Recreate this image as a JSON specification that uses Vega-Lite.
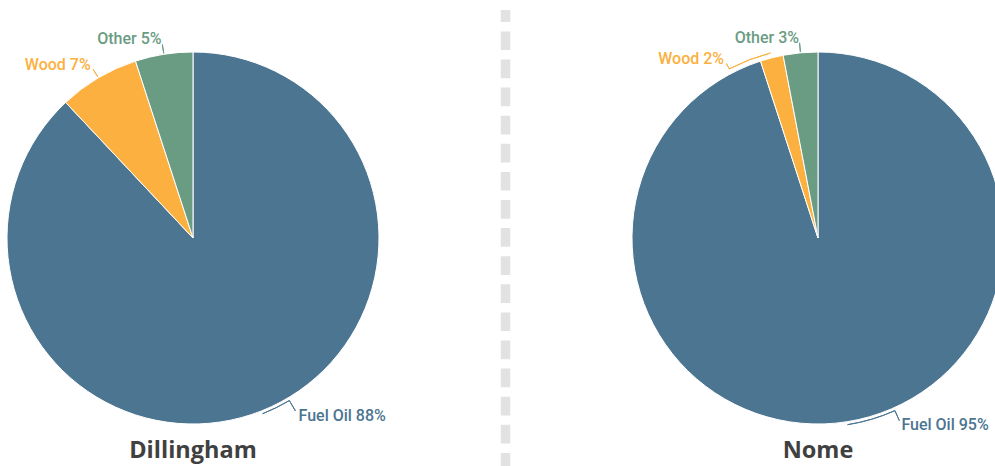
{
  "$schema": "https://vega.github.io/schema/vega-lite/v6.json",
  "width": 995,
  "height": 456,
  "autosize": {"type": "none"},
  "padding": {"top": 10, "left": 0, "right": 0, "bottom": 0},
  "background": "#ffffff",
  "config": {"view": {"stroke": null}, "font": "Roboto"},
  "data": {
    "values": [
      {"city": "Dillingham", "source": "Fuel Oil", "pct": 88},
      {"city": "Dillingham", "source": "Wood", "pct": 7},
      {"city": "Dillingham", "source": "Other", "pct": 5},
      {"city": "Nome", "source": "Fuel Oil", "pct": 95},
      {"city": "Nome", "source": "Wood", "pct": 2},
      {"city": "Nome", "source": "Other", "pct": 3}
    ]
  },
  "transform": [
    {"stack": "pct", "groupby": ["city"], "as": ["t0", "t1"]},
    {"calculate": "(datum.t0 + datum.t1) / 2", "as": "mid"},
    {"calculate": "datum.source + ' ' + datum.pct + '%'", "as": "label"}
  ],
  "encoding": {
    "x": {
      "field": "city",
      "type": "nominal",
      "scale": {"type": "point", "domain": ["Dillingham", "divider", "Nome"], "padding": 0.592, "align": 0.5216},
      "axis": null
    }
  },
  "layer": [
    {
      "data": {"values": [{"city": "divider"}]},
      "mark": {"type": "rule", "strokeWidth": 9.5, "strokeDash": [18.7, 9.4], "strokeDashOffset": 6.7},
      "encoding": {"color": {"value": "#e2e2e2"}}
    },
    {
      "mark": {"type": "arc", "radius": 186, "stroke": "#ffffff", "strokeWidth": 1},
      "encoding": {
        "theta": {"field": "t0", "type": "quantitative", "scale": {"domain": [0, 100]}},
        "theta2": {"field": "t1"},
        "color": {"field": "source", "type": "nominal", "scale": {"domain": ["Fuel Oil", "Wood", "Other"], "range": ["#4c7591", "#fbb040", "#6a9c83"]}, "legend": null}
      }
    },
    {
      "transform": [{"filter": "datum.source !== 'Fuel Oil' && !(datum.city === 'Nome' && datum.source === 'Wood')"}],
      "mark": {"type": "arc", "radius": 196, "radius2": 187, "filled": false, "strokeWidth": 1},
      "encoding": {
        "theta": {"field": "mid", "type": "quantitative"},
        "theta2": {"field": "mid"},
        "color": {"field": "source", "type": "nominal", "legend": null}
      }
    },
    {
      "transform": [{"filter": "datum.source !== 'Fuel Oil' && !(datum.city === 'Nome' && datum.source === 'Wood')"}],
      "mark": {"type": "text", "radius": 201, "align": "right", "baseline": "middle", "fontSize": 16, "fontWeight": 500},
      "encoding": {
        "theta": {"field": "mid", "type": "quantitative"},
        "text": {"field": "label"},
        "color": {"field": "source", "type": "nominal", "legend": null}
      }
    },
    {
      "transform": [{"filter": "datum.city === 'Nome' && datum.source === 'Wood'"}],
      "mark": {"type": "arc", "radius": 191, "radius2": 191, "theta2Offset": -0.232, "filled": false, "strokeWidth": 1},
      "encoding": {
        "theta": {"field": "mid", "type": "quantitative"},
        "theta2": {"field": "mid"},
        "color": {"field": "source", "type": "nominal", "legend": null}
      }
    },
    {
      "transform": [{"filter": "datum.city === 'Nome' && datum.source === 'Wood'"}],
      "mark": {"type": "arc", "radius": 197, "radius2": 191, "thetaOffset": -0.232, "theta2Offset": -0.232, "filled": false, "strokeWidth": 1},
      "encoding": {
        "theta": {"field": "mid", "type": "quantitative"},
        "theta2": {"field": "mid"},
        "color": {"field": "source", "type": "nominal", "legend": null}
      }
    },
    {
      "transform": [{"filter": "datum.city === 'Nome' && datum.source === 'Wood'"}],
      "mark": {"type": "text", "radius": 202, "thetaOffset": -0.232, "align": "right", "baseline": "middle", "fontSize": 16, "fontWeight": 500},
      "encoding": {
        "theta": {"field": "mid", "type": "quantitative"},
        "text": {"field": "label"},
        "color": {"field": "source", "type": "nominal", "legend": null}
      }
    },
    {
      "transform": [{"filter": "datum.city === 'Dillingham' && datum.source === 'Fuel Oil'"}],
      "mark": {"type": "arc", "radius": 189, "radius2": 189, "theta2Offset": -0.158, "filled": false, "strokeWidth": 1},
      "encoding": {
        "theta": {"field": "mid", "type": "quantitative"},
        "theta2": {"field": "mid"},
        "color": {"field": "source", "type": "nominal", "legend": null}
      }
    },
    {
      "transform": [{"filter": "datum.city === 'Dillingham' && datum.source === 'Fuel Oil'"}],
      "mark": {"type": "arc", "radius": 201, "radius2": 189, "thetaOffset": -0.158, "theta2Offset": -0.158, "filled": false, "strokeWidth": 1},
      "encoding": {
        "theta": {"field": "mid", "type": "quantitative"},
        "theta2": {"field": "mid"},
        "color": {"field": "source", "type": "nominal", "legend": null}
      }
    },
    {
      "transform": [{"filter": "datum.city === 'Dillingham' && datum.source === 'Fuel Oil'"}],
      "mark": {"type": "text", "radius": 207, "thetaOffset": -0.158, "align": "left", "baseline": "middle", "fontSize": 16, "fontWeight": 500},
      "encoding": {
        "theta": {"field": "mid", "type": "quantitative"},
        "text": {"field": "label"},
        "color": {"field": "source", "type": "nominal", "legend": null}
      }
    },
    {
      "transform": [{"filter": "datum.city === 'Nome' && datum.source === 'Fuel Oil'"}],
      "mark": {"type": "arc", "radius": 189, "radius2": 189, "theta2Offset": -0.262, "filled": false, "strokeWidth": 1},
      "encoding": {
        "theta": {"field": "mid", "type": "quantitative"},
        "theta2": {"field": "mid"},
        "color": {"field": "source", "type": "nominal", "legend": null}
      }
    },
    {
      "transform": [{"filter": "datum.city === 'Nome' && datum.source === 'Fuel Oil'"}],
      "mark": {"type": "arc", "radius": 200, "radius2": 189, "thetaOffset": -0.262, "theta2Offset": -0.262, "filled": false, "strokeWidth": 1},
      "encoding": {
        "theta": {"field": "mid", "type": "quantitative"},
        "theta2": {"field": "mid"},
        "color": {"field": "source", "type": "nominal", "legend": null}
      }
    },
    {
      "transform": [{"filter": "datum.city === 'Nome' && datum.source === 'Fuel Oil'"}],
      "mark": {"type": "text", "radius": 205, "thetaOffset": -0.262, "align": "left", "baseline": "middle", "fontSize": 16, "fontWeight": 500},
      "encoding": {
        "theta": {"field": "mid", "type": "quantitative"},
        "text": {"field": "label"},
        "color": {"field": "source", "type": "nominal", "legend": null}
      }
    },
    {
      "transform": [{"filter": "datum.source === 'Fuel Oil'"}],
      "mark": {"type": "text", "dy": 220, "align": "center", "baseline": "alphabetic", "font": "Open Sans", "fontSize": 23.5, "fontWeight": "bold", "color": "#404040"},
      "encoding": {
        "text": {"field": "city"}
      }
    }
  ]
}
